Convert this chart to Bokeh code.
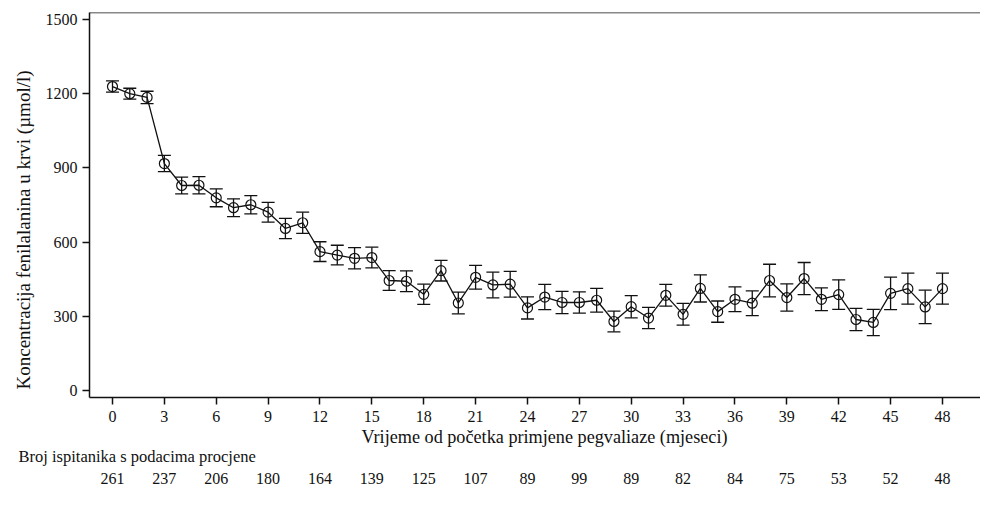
from bokeh.plotting import figure
from bokeh.models import (ColumnDataSource, Whisker, TeeHead, FixedTicker, Span,
                          Title, LinearAxis, Range1d)
from bokeh.embed import file_html
from bokeh.resources import INLINE

# ---- data ----
months = list(range(49))
phe_mean = [1230, 1201, 1186, 918, 829, 830, 779, 739, 751, 721, 655, 678,
            561, 547, 534, 537, 444, 441, 388, 484, 353, 457, 426, 429,
            333, 377, 355, 355, 364, 278, 338, 292, 384, 307, 412, 318,
            368, 352, 444, 375, 452, 368, 387, 286, 274, 392, 411, 337, 411]
phe_err = [23, 22, 25, 33, 34, 35, 36, 36, 37, 40, 41, 43,
           40, 40, 43, 42, 40, 42, 41, 42, 44, 48, 52, 52,
           45, 51, 45, 43, 48, 42, 45, 43, 44, 44, 55, 43,
           50, 50, 66, 55, 65, 46, 60, 45, 53, 66, 63, 68, 63]
n_months = [0, 3, 6, 9, 12, 15, 18, 21, 24, 27, 30, 33, 36, 39, 42, 45, 48]
n_counts = [261, 237, 206, 180, 164, 139, 125, 107, 89, 99, 89, 82, 84, 75, 53, 52, 48]
x_ticks = [0, 3, 6, 9, 12, 15, 18, 21, 24, 27, 30, 33, 36, 39, 42, 45, 48]
y_ticks = [0, 300, 600, 900, 1200, 1500]

x_title = "Vrijeme od početka primjene pegvaliaze (mjeseci)"
y_title = "Koncentracija fenilalanina u krvi (µmol/l)"
table_title = "Broj ispitanika s podacima procjene"

FONT = "Liberation Serif"
INK = "#111111"

src = ColumnDataSource(dict(
    x=months, y=phe_mean,
    lo=[m - e for m, e in zip(phe_mean, phe_err)],
    hi=[m + e for m, e in zip(phe_mean, phe_err)],
))

p = figure(width=980, height=489, output_backend="svg", toolbar_location=None,
           x_range=Range1d(-1.33, 50.2), y_range=Range1d(-30, 1530),
           min_border_left=89, min_border_right=0, min_border_top=12,
           min_border_bottom=92)
p.outline_line_color = None
p.xgrid.visible = False
p.ygrid.visible = False
p.background_fill_color = "white"
p.border_fill_color = "white"

for ax in (p.xaxis[0], p.yaxis[0]):
    ax.axis_line_color = INK
    ax.axis_line_width = 1.5
    ax.major_tick_line_color = INK
    ax.major_tick_line_width = 1.5
    ax.major_tick_out = 7
    ax.major_tick_in = 0
    ax.minor_tick_line_color = None
    ax.major_label_text_font = FONT
    ax.major_label_text_font_size = "16px"
    ax.major_label_text_color = INK

p.xaxis[0].ticker = FixedTicker(ticks=x_ticks)
p.yaxis[0].ticker = FixedTicker(ticks=y_ticks)
p.xaxis[0].major_label_standoff = 6
p.yaxis[0].major_label_standoff = 5

# y-axis title as a left-side title (rotated), anchored at the bottom of the frame
p.add_layout(Title(text=y_title, align="left", offset=8, standoff=18,
                   text_font=FONT, text_font_size="19px",
                   text_font_style="normal", text_color=INK), "left")
# x-axis title
p.add_layout(Title(text=x_title, align="left", offset=272, standoff=0,
                   text_font=FONT, text_font_size="18.2px",
                   text_font_style="normal", text_color=INK), "below")
# table heading
p.add_layout(Title(text=table_title, align="left", offset=-71, standoff=0,
                   vertical_align="top",
                   text_font=FONT, text_font_size="16.5px",
                   text_font_style="normal", text_color=INK), "below")
# number of subjects, one per tick
count_axis = LinearAxis(ticker=FixedTicker(ticks=n_months),
                        major_label_overrides={m: str(c) for m, c in zip(n_months, n_counts)})
count_axis.axis_line_color = None
count_axis.major_tick_line_color = None
count_axis.major_tick_in = 0
count_axis.major_tick_out = 0
count_axis.minor_tick_line_color = None
count_axis.major_label_standoff = 5
count_axis.major_label_text_font = FONT
count_axis.major_label_text_font_size = "16px"
count_axis.major_label_text_color = INK
p.add_layout(count_axis, "below")

# top frame line
p.add_layout(Span(location=1530, dimension="width", line_color=INK, line_width=1.5))

# error bars
wh = Whisker(base="x", lower="lo", upper="hi", source=src,
             line_color=INK, line_width=1.3,
             upper_head=TeeHead(size=13, line_color=INK, line_width=1.3),
             lower_head=TeeHead(size=13, line_color=INK, line_width=1.3))
p.add_layout(wh)

p.line("x", "y", source=src, line_color=INK, line_width=1.3)
p.scatter("x", "y", source=src, marker="circle", size=10,
          fill_color=None, line_color=INK, line_width=1.2)

open("out.html", "w").write(file_html(p, INLINE))
